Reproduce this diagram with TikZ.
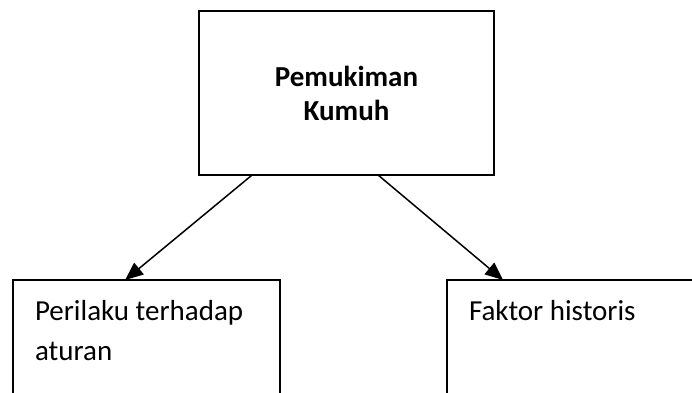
\documentclass[tikz,border=0pt]{standalone}
\usepackage{fontspec}
\setmainfont{Carlito}
\usepackage{tikz}
\usetikzlibrary{calc,arrows.meta,positioning}

\begin{document}
\begin{tikzpicture}[x=0.5pt,y=-0.5pt,>={Triangle[length=9pt,width=7.5pt]},
     rootbox/.style={draw=black,line width=0.9pt,outer sep=0pt,align=center,
       minimum width=147.5pt,minimum height=82pt,
       font=\fontsize{14.5}{17}\selectfont\bfseries},
     leafbox/.style={draw=black,line width=0.9pt,outer sep=0pt,anchor=north west,align=flush left,
       inner xsep=11pt,inner ysep=0pt,text height=20pt,text depth=80pt,
       font=\fontsize{14.5}{20}\selectfont},
     ar/.style={->,line width=0.75pt}]
    \useasboundingbox (0,0) rectangle (692,392);
    \clip (0,0) rectangle (692,392);
    \node[rootbox] (kumuh) at (346.5,93) {Pemukiman\\ Kumuh};
    \node[leafbox,text width=111.5pt] (perilaku) at (13,280) {Perilaku terhadap\\ aturan};
    \node[leafbox,text width=128pt] (historis) at (447,280) {Faktor historis};
    \draw[ar] ($(kumuh.south west)!0.18!(kumuh.south east)$) -- ($(perilaku.north west)!0.42!(perilaku.north east)$);
    \draw[ar] ($(kumuh.south west)!0.607!(kumuh.south east)$) -- ($(historis.north west)!0.187!(historis.north east)$);
  \end{tikzpicture}
\end{document}
